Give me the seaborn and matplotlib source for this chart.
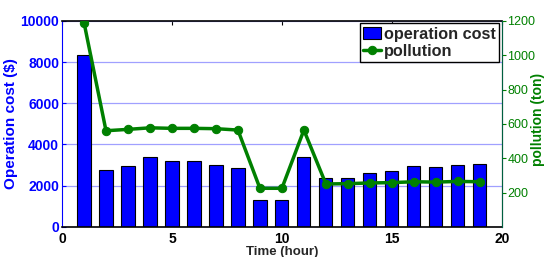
import matplotlib
matplotlib.use('Agg')
import matplotlib.pyplot as plt
import seaborn as sns
import pandas as pd

hours = list(range(1, 20))
operation_cost = [8350, 2750, 2950, 3380, 3200, 3200, 3020, 2870, 1300, 1300,
                  3400, 2360, 2360, 2640, 2720, 2970, 2910, 3000, 3070]
pollution = [1190, 560, 568, 577, 574, 574, 572, 564, 225, 225,
             564, 250, 252, 256, 258, 263, 261, 265, 263]

df = pd.DataFrame({'hour': hours, 'cost': operation_cost, 'pollution': pollution})

sns.set_style('white')
plt.rcParams['font.family'] = ['Liberation Sans', 'DejaVu Sans']

blue = '#0000ff'
green = '#008000'

fig = plt.figure(figsize=(5.46, 2.57), dpi=100)
ax = fig.add_axes([0.1136, 0.117, 0.8054, 0.802])

sns.barplot(data=df, x='hour', y='cost', native_scale=True, width=0.6,
            color=blue, edgecolor='black', linewidth=0.8, saturation=1,
            ax=ax, label='operation cost', zorder=2)
if ax.get_legend() is not None:
    ax.get_legend().remove()
ax.set_xlim(0, 20)
ax.set_ylim(0, 10000)
ax.set_xticks([0, 5, 10, 15, 20])
ax.set_yticks([0, 2000, 4000, 6000, 8000, 10000])
ax.yaxis.grid(True, color='#a0a0ff', linewidth=0.9)
ax.set_axisbelow(True)
ax.tick_params(axis='y', colors=blue, direction='in', length=3, labelsize=10, pad=2)
ax.tick_params(axis='x', colors='black', direction='in', length=3, labelsize=10, top=True)
for t in ax.get_yticklabels():
    t.set_fontweight('bold')
for t in ax.get_xticklabels():
    t.set_fontweight('bold')
ax.set_ylabel('Operation cost ($)', color=blue, fontsize=11, fontweight='bold', labelpad=2)
ax.set_xlabel('Time (hour)', fontsize=9.5, fontweight='bold', labelpad=0)
for s in ['top', 'bottom']:
    ax.spines[s].set_color('black')
    ax.spines[s].set_linewidth(1.2)
ax.spines['left'].set_color(blue)

ax2 = ax.twinx()
sns.lineplot(data=df, x='hour', y='pollution', color=green, linewidth=2.5,
             marker='o', markersize=6, markeredgecolor=green, ax=ax2,
             label='pollution', legend=False)
ax2.set_ylim(0, 1200)
ax2.set_yticks([200, 400, 600, 800, 1000, 1200])
ax2.tick_params(axis='y', colors=green, direction='out', length=3, labelsize=9, pad=1)
ax2.set_ylabel('pollution (ton)', color=green, fontsize=10, fontweight='bold')
ax2.yaxis.label.set_va('center')
ax2.yaxis.set_label_coords(1.082, 0.52)
ax2.spines['right'].set_color('#006040')
ax2.spines['left'].set_visible(False)
ax2.spines['top'].set_visible(False)
ax2.spines['bottom'].set_visible(False)

h1, l1 = ax.get_legend_handles_labels()
h2, l2 = ax2.get_legend_handles_labels()
leg = ax2.legend(h1 + h2, ['operation cost', 'pollution'], loc='upper right',
                 fancybox=False, edgecolor='black', framealpha=1,
                 prop={'weight': 'bold', 'size': 11.7}, handlelength=1.1,
                 handletextpad=0.2, borderpad=0.2, labelspacing=0.15,
                 borderaxespad=0.15)
leg.get_frame().set_linewidth(1.0)

fig.savefig('out.png', dpi=100)
